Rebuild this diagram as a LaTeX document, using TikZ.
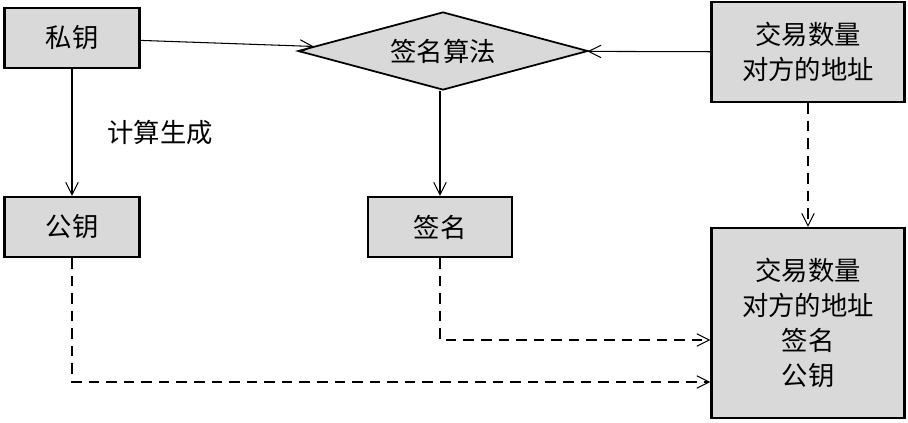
\documentclass[tikz,border=0pt]{standalone}
\usepackage{fontspec}
\newfontfamily\cjk{Noto Sans CJK SC}
\usetikzlibrary{shapes.geometric,arrows.meta,positioning}
\definecolor{boxgray}{RGB}{217,217,217}
\begin{document}
\begin{tikzpicture}[
    x=0.02cm, y=-0.02cm,
    box/.style={rectangle, draw=black, line width=1.2pt, fill=boxgray, text centered, font=\cjk\fontsize{15}{20}\selectfont, align=center},
    key/.style={box, minimum width=2.7cm, minimum height=1.2cm},
    algo/.style={diamond, draw=black, line width=1pt, fill=boxgray, aspect=3.7, minimum width=5.8cm, minimum height=1.56cm, inner sep=0pt, font=\cjk\fontsize{15}{20}\selectfont},
    flow/.style={-{Straight Barb[length=2.5mm,width=2.5mm]}, line width=0.6pt},
    dflow/.style={flow, dash pattern=on 6pt off 4pt}
]
    \useasboundingbox (0,0) rectangle (908,422);
    % Nodes
    \node[key] (privkey) at (72,38) {私钥};
    \node[key] (pubkey) at (72,227) {公钥};
    \node[algo] (signalgo) at (443,51) {签名算法};
    \node[box, minimum width=2.88cm, minimum height=1.2cm] (sign) at (440,227) {签名};
    \node[box, minimum width=3.86cm, minimum height=2cm] (txinfo) at (808,52) {交易数量\\对方的地址};
    \node[box, minimum width=3.86cm, minimum height=3.8cm] (txall) at (808,323) {交易数量\\对方的地址\\签名\\公钥};
    \node[font=\cjk\fontsize{15}{20}\selectfont] (calc) at (160,133) {计算生成};
    % Connectors
    \draw[flow] (privkey) -- (signalgo);
    \draw[flow] (txinfo) -- (signalgo);
    \draw[flow] (signalgo.south -| sign) -- (sign);
    \draw[flow] (privkey) -- (pubkey);
    \draw[dflow] (txinfo) -- (txall);
    \draw[dflow] (sign.south) |- (txall.west |- 0,340);
    \draw[dflow] (pubkey.south) |- (txall.west |- 0,382);
\end{tikzpicture}
\end{document}
